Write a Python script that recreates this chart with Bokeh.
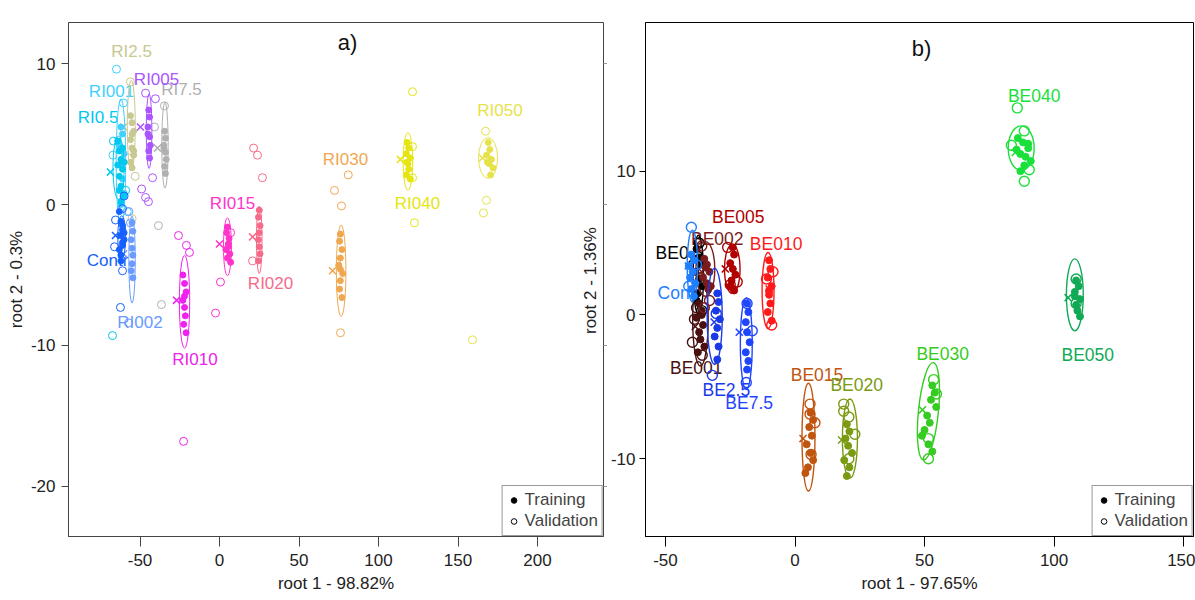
import math
from bokeh.plotting import figure
from bokeh.models import Range1d, FixedTicker, LinearAxis, Label, Legend, LegendItem, CustomJSTickFormatter
from bokeh.layouts import row
from bokeh.embed import file_html
from bokeh.resources import INLINE
from bokeh.core.properties import value

FONT = "Liberation Sans"

# ---------------- panel a) data ----------------
a_names = ["RI7.5", "RI005", "RI2.5", "RI001", "RI0.5", "RI002", "Contr",
           "RI010", "RI015", "RI020", "RI030", "RI040", "RI050"]
a_colors = ["#b0b0b0", "#aa55ff", "#c8c890", "#3fd0ff", "#00c8ee", "#6a9cff", "#1560ff",
            "#ee22ee", "#ff33cc", "#f76b8a", "#f0a850", "#e5e510", "#e6e24a"]
a_train_x = [
    [-34.5, -34, -35, -34, -33.5, -34.5, -34, -35],
    [-44.5, -44, -45, -44, -43.5, -44.5, -44, -45],
    [-56, -55, -54, -56, -55, -54, -56, -55, -55, -54],
    [-62, -61, -63, -60, -62, -61, -60, -62],
    [-64, -63, -62, -61, -63, -62, -60, -64, -61, -62, -63, -60],
    [-55, -54.5, -55.5, -55, -54.5, -55, -55.5, -54.5],
    [-63, -62, -61, -62, -60, -61, -63, -62, -60, -61, -62, -61],
    [-23, -22, -21, -23, -22, -21.5, -22.5, -21, -22],
    [5, 4.5, 6, 5.5, 4, 6.5, 5, 7, 5.5],
    [25, 24.5, 25.5, 25, 24.5, 25, 25.5, 24.5],
    [76, 75.5, 77, 76, 75, 77.5, 76, 75.5, 77, 76],
    [118, 119, 117.5, 120, 118.5, 119, 117.5, 120, 118],
    [169, 170, 168, 171, 169.5, 172, 170.5, 168.5],
]
a_train_y = [
    [5.2, 4.7, 4.2, 3.7, 3.2, 2.7, 2.2, 4.0],
    [6.7, 6.2, 5.5, 4.8, 4.2, 3.8, 3.3, 5.0],
    [6.3, 5.8, 5.2, 4.6, 4.0, 3.5, 3.0, 2.6, 5.0, 3.8],
    [5.5, 5.0, 4.2, 3.6, 2.8, 1.8, 0.8, 0.0],
    [4.5, 3.8, 3.2, 2.5, 2.0, 1.3, 0.6, 2.8, 4.0, 0.2, 1.0, 3.0],
    [-1.3, -1.9, -2.5, -3.1, -3.6, -4.2, -4.7, -5.2],
    [-0.5, -1.2, -1.8, -2.2, -2.5, -2.9, -3.2, -3.6, -2.0, -1.5, -4.0, -2.7],
    [-5.0, -5.6, -6.2, -6.8, -7.3, -7.9, -8.5, -9.1, -6.5],
    [-1.6, -2.0, -2.4, -2.8, -3.2, -3.5, -3.8, -4.1, -3.0],
    [-0.4, -0.9, -1.5, -2.0, -2.5, -3.0, -3.5, -4.0],
    [-2.1, -2.6, -3.2, -3.8, -4.3, -4.9, -5.4, -6.0, -6.6, -4.6],
    [4.4, 4.0, 3.6, 3.3, 2.9, 2.5, 2.1, 1.8, 3.0],
    [4.4, 3.9, 3.5, 3.2, 2.9, 2.6, 2.1, 3.0],
]
a_val_x = [
    [-34.6, -40.9, -38.4, -36.5],
    [-46.5, -40.3, -42.1, -49, -46.5, -44.7],
    [-56, -57, -55, -53],
    [-64.8, -60.4, -67, -58],
    [-66.7, -59, -67.3],
    [-56, -57.2, -57],
    [-61, -65.4, -61, -62.3, -66, -60],
    [-25.8, -20.8, -18.9, -22.6],
    [0.6, -2.5, 7],
    [21.4, 23.9, 27, 20.8],
    [81, 72.3, 76.7, 76.1],
    [121.4, 121.4, 121.4, 122.6],
    [167.3, 167.9, 166, 159.1],
]
a_val_y = [
    [7.0, 5.5, -1.5, -7.1],
    [7.9, 7.5, 1.9, 1.1, 0.5, 0.2],
    [8.7, 3.3, -1.0, 2.0],
    [9.6, 7.2, 3.5, -0.5],
    [4.5, 1.0, -9.3],
    [-1.3, -8.4, -0.5],
    [-0.3, -1.1, -4.7, -7.3, -3.0, 0.6],
    [-2.2, -2.9, -3.4, -16.8],
    [-5.5, -7.7, -2.0],
    [4.0, 3.5, 1.9, -4.0],
    [2.1, 1.0, -0.1, -9.1],
    [8.0, 4.1, 1.9, -1.3],
    [5.2, 0.3, -0.6, -9.6],
]
a_cent_x = [-39, -49.7, -60.4, -64, -68.6, -60.4, -65.4, -27, 0, 20.8, 71.1, 113.8, 165.4]
a_cent_y = [4.0, 5.5, 5.5, 4.5, 2.3, -3.5, -2.2, -6.8, -2.8, -2.3, -4.7, 3.2, 3.3]
a_ell_x = [-34.3, -44.3, -55.5, -62, -63.5, -55, -61.5, -22, 5, 25, 76.5, 118.5, 168.9]
a_ell_y = [4.2, 5.2, 5.6, 3.0, 2.6, -3.9, -2.3, -6.9, -3.0, -2.5, -4.7, 3.05, 3.3]
a_ell_w = [4, 3.5, 5, 6, 7, 4, 5, 6.5, 5, 3.5, 6, 6, 12]
a_ell_h = [6.1, 5.3, 6.4, 9, 4.5, 6.2, 3.0, 6.6, 4.1, 4.8, 6.5, 4.1, 2.9]
a_xticks = [-50, 0, 50, 100, 150, 200]
a_yticks = [-20, -10, 0, 10]

# ---------------- panel b) data ----------------
b_names = ["BE0.5", "BE001", "BE002", "Contr", "BE005", "BE010", "BE2.5",
           "BE7.5", "BE015", "BE020", "BE030", "BE040", "BE050"]
b_colors = ["#000000", "#4a1010", "#7a1c1c", "#1f7fff", "#b00000", "#ff1a1a", "#1a3ae8",
            "#1f45ff", "#c0550f", "#7a9a12", "#35cc22", "#1ae03a", "#10aa55"]
b_train_x = [
    [-38, -37, -36.5, -38.5, -37, -36, -37.5, -38],
    [-37, -36, -38, -35.5, -37, -36.5, -35, -37.5, -36],
    [-35, -34, -33, -35.5, -34, -33.5, -34.5, -32.5],
    [-40, -39, -41, -39.5, -40.5, -38.5, -40, -39],
    [-24, -23.5, -25, -24, -23, -24.5, -25, -23.5],
    [-10, -9.5, -10.5, -9, -10, -9.5, -10.5, -9, -10],
    [-30, -29.5, -30.5, -29, -30, -31, -29.5, -30],
    [-18.5, -18, -19, -18.5, -17.5, -19, -18, -18.5],
    [6, 7, 5.5, 6.5, 4.5, 6, 7, 5, 4],
    [20, 21, 19.5, 20.5, 22, 19, 21, 20],
    [53, 54, 52.5, 54.5, 51, 52, 50, 49, 51.5, 53],
    [86, 88, 90, 87, 89, 91, 85.5, 88.5, 90, 87],
    [108.5, 109.5, 108, 110, 108.5, 109, 110, 108],
]
b_train_y = [
    [4.6, 4.0, 3.5, 3.0, 2.5, 2.0, 1.5, 1.0],
    [0.8, 0.3, -0.2, -0.7, -1.2, -1.7, -2.2, -2.6, 0.0],
    [3.9, 3.5, 3.0, 2.6, 2.2, 1.8, 3.3, 2.0],
    [4.2, 3.8, 3.4, 3.0, 2.6, 2.2, 1.8, 1.3],
    [4.7, 4.2, 3.6, 3.2, 2.8, 2.4, 2.0, 1.7],
    [3.8, 3.2, 2.6, 2.0, 1.4, 0.8, 0.2, -0.4, 1.7],
    [1.5, 0.9, 0.3, -0.3, -0.9, -1.5, -2.2, -3.1],
    [0.8, 0.2, -0.5, -1.2, -1.9, -2.6, -3.2, -3.8],
    [-6.8, -7.3, -7.8, -8.4, -9.0, -9.6, -10.1, -10.6, -11.0],
    [-7.6, -8.1, -8.6, -9.1, -9.6, -10.1, -10.6, -11.2],
    [-4.9, -5.4, -5.9, -6.4, -7.0, -7.5, -8.0, -8.4, -9.0, -9.5],
    [12.3, 12.0, 11.6, 11.2, 11.0, 10.7, 11.5, 10.4, 11.9, 10.0],
    [2.4, 2.0, 1.6, 1.1, 0.7, 0.3, -0.1, 1.3],
]
b_val_x = [
    [-37, -36],
    [-35.8, -38.8, -39.6, -38],
    [-36, -33, -35],
    [-40, -38, -41],
    [-26, -22.3, -25],
    [-9, -11, -8.5],
    [-31.9, -30.4],
    [-18.5, -16.5, -18.8],
    [5.8, 5.8, 7.7, 6.2],
    [18.8, 18.8, 20.8, 23.1, 20.8],
    [53.5, 51.5, 51.5, 54.6],
    [85.8, 88.5, 83.5, 90.4, 88.5],
    [108.5, 108.5],
]
b_val_y = [
    [5.0, 0.3],
    [-2.8, -0.3, -1.9, 0.5],
    [4.8, 1.0, 0.5],
    [6.1, 3.5, 2.0],
    [4.7, 2.3, 2.1],
    [-0.7, 2.5, 3.0],
    [-4.2, 0.1],
    [0.8, -1.1, -4.7],
    [-6.2, -6.9, -7.5, -9.7],
    [-6.2, -6.7, -7.1, -8.3, -10.0],
    [-4.5, -8.6, -10.0, -5.5],
    [14.4, 12.8, 11.8, 10.1, 9.3],
    [2.5, 0.8],
]
b_cent_x = [-39.6, -38.5, -36, -41.2, -26.9, -10, -31.2, -21.5, 3.1, 18, 49.2, 85, 105.4]
b_cent_y = [3.9, -0.8, 3.0, 3.4, 3.2, 1.8, -0.5, -1.2, -8.6, -8.7, -6.6, 11.3, 1.2]
b_ell_x = [-37.3, -36.5, -34.6, -39.6, -24.2, -10.4, -31, -18.8, 5.2, 21.2, 51.5, 87.3, 108]
b_ell_y = [2.8, -0.3, 3.2, 3.4, 3.2, 1.7, -0.1, -2.0, -8.5, -8.6, -6.7, 11.6, 1.4]
b_ell_w = [4, 6, 7.3, 4, 6, 4.6, 5.8, 4.6, 5, 5.8, 7.7, 10, 6.5]
b_ell_h = [5.5, 6.5, 3.8, 5, 3.4, 5.3, 6.7, 6.4, 7.5, 5.5, 6.8, 3.1, 5]
b_ell_angle = [0, 0, 0, 0, 0, 0, 0, 0, 0, 0, -0.1, 0, 0]
b_xticks = [-50, 0, 50, 100, 150]
b_yticks = [-10, 0, 10]

# label placements (layout, not data)
a_lab_x = [-23.9, -39.6, -55.3, -67.9, -76.4, -50, -70.4, -15.4, 8.2, 32.1, 79.2, 124.5, 176.4]
a_lab_y = [8.15, 8.9, 10.85, 8.0, 6.2, -8.4, -4.0, -11.0, 0.07, -5.6, 3.2, 0.07, 6.67]
b_lab_x = [-44.6, -38.1, -30, -44.8, -21.9, -7.3, -26.5, -17.7, 8.5, 23.8, 57, 92.3, 113]
b_lab_y = [4.3, -3.7, 5.3, 1.5, 6.8, 4.9, -5.2, -6.1, -4.2, -4.9, -2.7, 15.2, -2.8]

NAN = float("nan")


def plain_labels(ticks):
    return {t: str(t) for t in ticks}


def style(p, xticks, yticks, outline, tick_font, left_tick_out, left_standoff):
    p.xgrid.visible = False
    p.ygrid.visible = False
    p.outline_line_color = outline
    p.outline_line_width = 1
    p.xaxis.ticker = FixedTicker(ticks=xticks)
    p.yaxis.ticker = FixedTicker(ticks=yticks)
    p.xaxis.major_label_overrides = plain_labels(xticks)
    p.yaxis.major_label_overrides = plain_labels(yticks)
    for ax in (p.xaxis, p.yaxis):
        ax.axis_line_color = outline
        ax.major_tick_line_color = outline
        ax.minor_tick_line_color = None
        ax.major_tick_in = 0
        ax.major_label_text_font = FONT
        ax.major_label_text_font_size = tick_font
        ax.major_label_text_color = "#222222"
        ax.axis_label_text_font = FONT
        ax.axis_label_text_font_size = "17px"
        ax.axis_label_text_font_style = "normal"
        ax.axis_label_text_color = "#222222"
    p.xaxis.major_tick_out = 10
    p.xaxis.major_label_standoff = 7
    p.xaxis.axis_label_standoff = 5
    p.yaxis.major_tick_out = left_tick_out
    p.yaxis.major_label_standoff = left_standoff
    p.yaxis.axis_label_standoff = 2


def draw_groups(p, names, colors, tx, ty, vx, vy, cx, cy, ex, ey, ew, eh, ang,
                lx, ly, lab_font, tsize, vsize, lw):
    p.text(x=lx, y=ly, text=names, text_color=colors, text_font=value(FONT),
           text_font_size=lab_font, text_align="center", text_baseline="middle")
    for i in range(len(names)):
        c = colors[i]
        p.ellipse(x=[ex[i]], y=[ey[i]], width=[ew[i]], height=[eh[i]], angle=[ang[i]],
                  fill_color=None, line_color=c, line_width=lw)
        p.scatter(vx[i], vy[i], marker="circle", size=vsize, fill_color=None,
                  line_color=c, line_width=lw)
        p.scatter(tx[i], ty[i], marker="circle", size=tsize, fill_color=c, line_color=c)
        p.scatter([cx[i]], [cy[i]], marker="x", size=10, line_color=c, line_width=1.5)


def add_legend(p, font):
    # legend-only renderers: one NaN point, so nothing is plotted but the key is drawn
    rt = p.scatter(x=[NAN], y=[NAN], marker="circle", size=6,
                   fill_color="black", line_color="black")
    rv = p.scatter(x=[NAN], y=[NAN], marker="circle", size=7,
                   fill_color=None, line_color="black")
    leg = Legend(items=[LegendItem(label="Training", renderers=[rt]),
                        LegendItem(label="Validation", renderers=[rv])],
                 location="bottom_right", margin=0, padding=4, spacing=1,
                 label_text_font=FONT, label_text_font_size=font, label_height=18,
                 glyph_height=16, glyph_width=14, label_standoff=4,
                 border_line_color="#333333", border_line_width=1,
                 background_fill_color="white", background_fill_alpha=1)
    p.add_layout(leg)


# ---------------- figure a ----------------
p1 = figure(width=607, height=600, output_backend="svg", toolbar_location=None,
            x_range=Range1d(-94.97, 241.5), y_range=Range1d(-23.55, 12.91),
            min_border_left=68, min_border_right=4, min_border_top=22, min_border_bottom=64,
            x_axis_label="root 1 - 98.82%", y_axis_label="root 2 - 0.3%")
style(p1, a_xticks, a_yticks, "#444444", "17px", 7, 6)
rax = LinearAxis(ticker=FixedTicker(ticks=a_yticks),
                 formatter=CustomJSTickFormatter(code="return ''"),
                 axis_line_color=None, major_tick_out=4, major_tick_in=0,
                 major_tick_line_color="#999999", minor_tick_line_color=None,
                 major_label_standoff=0)
p1.add_layout(rax, "right")
draw_groups(p1, a_names, a_colors, a_train_x, a_train_y, a_val_x, a_val_y,
            a_cent_x, a_cent_y, a_ell_x, a_ell_y, a_ell_w, a_ell_h, [0] * len(a_names),
            a_lab_x, a_lab_y, "17px", 6, 8, 1)
add_legend(p1, "17px")
p1.add_layout(Label(x=80.5, y=11.49, text="a)", text_font=FONT, text_font_size="22px",
                    text_align="center", text_baseline="middle", text_color="#111111"))
# y-axis title of panel b (sits over panel a's right margin, as in the source image)
p1.add_layout(Label(x=233.3, y=-5.4, text="root 2 - 1.36%", angle=math.pi / 2,
                    text_font=FONT, text_font_size="17px", text_align="center",
                    text_baseline="middle", text_color="#222222"))

# ---------------- figure b ----------------
p2 = figure(width=588, height=600, output_backend="svg", toolbar_location=None,
            x_range=Range1d(-57.7, 153.8), y_range=Range1d(-15.41, 20.34),
            min_border_left=36, min_border_right=2, min_border_top=15, min_border_bottom=63,
            x_axis_label="root 1 - 97.65%")
style(p2, b_xticks, b_yticks, "#000000", "17px", 6, 4)
p2.yaxis.axis_label = None
draw_groups(p2, b_names, b_colors, b_train_x, b_train_y, b_val_x, b_val_y,
            b_cent_x, b_cent_y, b_ell_x, b_ell_y, b_ell_w, b_ell_h, b_ell_angle,
            b_lab_x, b_lab_y, "17.5px", 7, 10, 1.4)
add_legend(p2, "17px")
p2.add_layout(Label(x=48.8, y=18.5, text="b)", text_font=FONT, text_font_size="22px",
                    text_align="center", text_baseline="middle", text_color="#111111"))

layout = row(p1, p2, spacing=0)
open("out.html", "w").write(file_html(layout, INLINE))
